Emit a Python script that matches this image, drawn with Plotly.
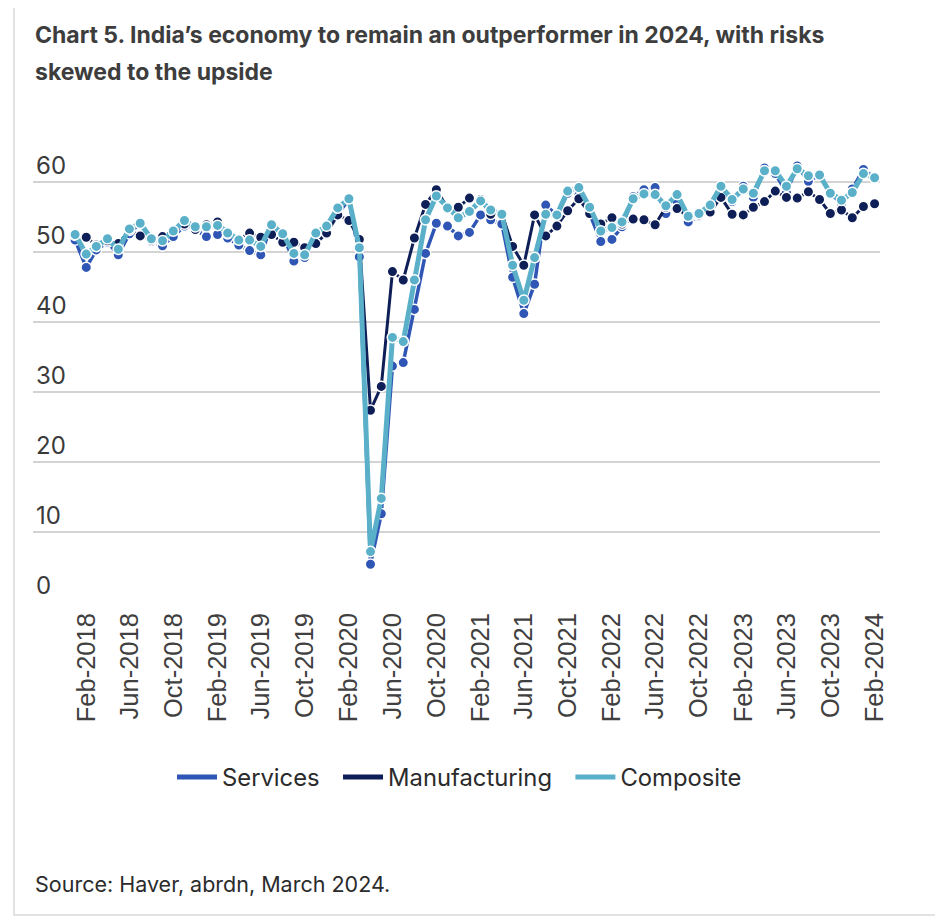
import plotly.graph_objects as go
import pandas as pd

months = pd.date_range("2018-01-01", "2024-02-01", freq="MS").strftime("%Y-%m-%d").tolist()

services = [51.7, 47.8, 50.3, 51.4, 49.6, 52.6, 54.2, 51.5, 50.9, 52.2, 53.7, 53.2,
            52.2, 52.5, 52.0, 51.0, 50.2, 49.6, 53.8, 52.4, 48.7, 49.2, 52.7, 53.3,
            55.5, 57.5, 49.3, 5.4, 12.6, 33.7, 34.2, 41.8, 49.8, 54.1, 53.7, 52.3,
            52.8, 55.3, 54.6, 54.0, 46.4, 41.2, 45.4, 56.7, 55.2, 58.4, 58.1, 55.5,
            51.5, 51.8, 53.6, 57.9, 58.9, 59.2, 55.5, 57.2, 54.3, 55.1, 56.4, 58.5,
            57.2, 59.4, 57.8, 62.0, 61.2, 58.5, 62.3, 60.1, 61.0, 58.4, 56.9, 59.0,
            61.8, 60.6]

manufacturing = [52.4, 52.1, 51.0, 51.6, 51.2, 53.1, 52.3, 51.7, 52.2, 53.1, 54.0, 53.2,
                 53.9, 54.3, 52.6, 51.8, 52.7, 52.1, 52.5, 51.4, 51.4, 50.6, 51.2, 52.7,
                 55.3, 54.5, 51.8, 27.4, 30.8, 47.2, 46.0, 52.0, 56.8, 58.9, 56.3, 56.4,
                 57.7, 57.5, 55.4, 55.5, 50.8, 48.1, 55.3, 52.3, 53.7, 55.9, 57.6, 55.5,
                 54.0, 54.9, 54.0, 54.7, 54.6, 53.9, 56.4, 56.2, 55.1, 55.3, 55.7, 57.8,
                 55.4, 55.3, 56.4, 57.2, 58.7, 57.8, 57.7, 58.6, 57.5, 55.5, 56.0, 54.9,
                 56.5, 56.9]

composite = [52.5, 49.7, 50.8, 51.9, 50.4, 53.3, 54.1, 51.9, 51.6, 53.0, 54.5, 53.6,
             53.6, 53.8, 52.7, 51.7, 51.7, 50.8, 53.9, 52.6, 49.8, 49.6, 52.7, 53.7,
             56.3, 57.6, 50.6, 7.2, 14.8, 37.8, 37.2, 46.0, 54.6, 58.0, 56.3, 54.9,
             55.8, 57.3, 56.0, 55.4, 48.1, 43.1, 49.2, 55.4, 55.3, 58.7, 59.2, 56.4,
             53.0, 53.5, 54.3, 57.6, 58.3, 58.2, 56.6, 58.2, 55.1, 55.5, 56.7, 59.4,
             57.5, 59.0, 58.4, 61.6, 61.6, 59.4, 61.9, 60.9, 61.0, 58.4, 57.4, 58.5,
             61.2, 60.6]

series_names = ["Services", "Manufacturing", "Composite"]
colors = ["#2F56B5", "#0E1E57", "#5AB0C9"]
widths = [3.5, 3, 5]

OFF = 8  # page body margin
W, H = 943 - OFF, 919 - OFF
# plot area in page coordinates: x 33..880, y 140..602
PL, PR, PT, PB = 33, 880, 140, 602
ML, MR, MT, MB = PL - OFF, W - (PR - OFF), PT - OFF, H - (PB - OFF)
PW, PH = PR - PL, PB - PT

def px2x(px):
    return (px - PL) / PW

def py2y(py):
    return (PB - py) / PH

fig = go.Figure()
for name, vals, col, w in zip(series_names, [services, manufacturing, composite], colors, widths):
    fig.add_trace(go.Scatter(
        x=months, y=vals, mode="lines+markers", name=name, showlegend=False,
        line=dict(color=col, width=w),
        marker=dict(size=10.5, color=col, line=dict(color="white", width=1.5)),
    ))
for name, col in zip(series_names, colors):
    fig.add_trace(go.Scatter(x=[None], y=[None], mode="lines", name=name + "\u00a0\u00a0",
                             line=dict(color=col, width=5)))

title_font = dict(family="Inter", size=23, color="#3d3d3d")
fig.update_layout(
    width=W, height=H,
    margin=dict(l=ML, r=MR, t=MT, b=MB),
    paper_bgcolor="white", plot_bgcolor="white",
    showlegend=True,
    legend=dict(orientation="h", x=px2x(466), xanchor="center", y=py2y(777), yanchor="middle",
                font=dict(family="Inter", size=23.8, color="#2b2b2b"),
                itemwidth=40, traceorder="normal"),
    xaxis=dict(type="date", range=["2017-09-06", "2024-02-16"],
               tick0="2018-02-01", dtick="M4", tickformat="%b-%Y",
               tickangle=-90, showgrid=False, zeroline=False, showline=False,
               ticks="", ticklen=0, ticklabelstandoff=5,
               tickfont=dict(family="Liberation Sans", size=25.5, color="#404040")),
    yaxis=dict(range=[0, 66], tickvals=[0, 10, 20, 30, 40, 50, 60],
               ticklabelposition="inside top", showgrid=True,
               gridcolor="#d3d3d3", gridwidth=1.5, zeroline=False, showline=False,
               tickfont=dict(family="Inter", size=24, color="#3a3a3a")),
    annotations=[
        dict(text="<b>Chart 5. India’s economy to remain an outperformer in 2024, with risks</b>",
             xref="paper", yref="paper", x=px2x(33), y=py2y(35), xanchor="left", yanchor="middle",
             showarrow=False, font=title_font),
        dict(text="<b>skewed to the upside</b>",
             xref="paper", yref="paper", x=px2x(33), y=py2y(72), xanchor="left", yanchor="middle",
             showarrow=False, font=title_font),
        dict(text="Source: Haver, abrdn, March 2024.",
             xref="paper", yref="paper", x=px2x(33), y=py2y(884), xanchor="left", yanchor="middle",
             showarrow=False, font=dict(family="Inter", size=21.5, color="#2b2b2b")),
    ],
    shapes=[
        dict(type="rect", xref="paper", yref="paper", x0=px2x(14), x1=px2x(936),
             y0=py2y(915), y1=py2y(-5), line=dict(color="#d9d9d9", width=1.5), layer="below"),
    ],
)

fig.write_html("out.html")
